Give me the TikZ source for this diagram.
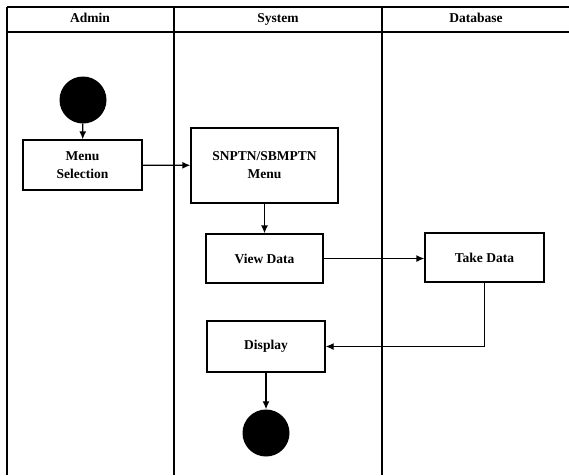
\documentclass[tikz,border=0pt]{standalone}
\usepackage{fontspec}
\setmainfont{Liberation Serif}
\usetikzlibrary{arrows.meta}
\begin{document}
\begin{tikzpicture}[x=1pt, y=-1pt,
    lane/.style={line width=2.8pt},
    act/.style={rectangle, draw, line width=1.3pt, align=center,
      font=\fontsize{13.5}{18}\selectfont\bfseries, inner sep=0pt},
    dot/.style={circle, fill=black, inner sep=0pt, minimum size=47pt},
    head/.style={font=\fontsize{13.5}{15}\selectfont\bfseries,
      text height=9pt, text depth=3pt}]
    \useasboundingbox (0,0) rectangle (569,475);

    % swimlanes
    \begin{scope}[lane]
      \draw (7,7) -- (569,7); \draw (7,32) -- (569,32);
      \draw (7,7) -- (7,475); \draw (174,7) -- (174,475);
      \draw (382,7) -- (382,475);
    \end{scope}
    \begin{scope}[every node/.style={head}]
      \node (admin) at (90,19.5) {Admin}; \node (system) at (278,19.5)
      {System}; \node (database) at (476,19.5) {Database};
    \end{scope}

    % activities
    \node[dot] (start) at (83,100) {};
    \node[dot] (stop) at (266,433) {};
    \begin{scope}[every node/.style={act}]
      \node[minimum width=119pt, minimum height=50pt] (menu) at
      (82.5,165) {Menu\\Selection}; \node[minimum width=147pt,
      minimum height=75pt] (snptn) at (264.5,165.5)
      {SNPTN/SBMPTN\\Menu};
      \node[minimum width=117pt, minimum height=49pt] (view) at
      (264.5,258.5) {View Data}; \node[minimum width=119pt, minimum
      height=49pt] (take) at (484.5,257.5) {Take Data};
      \node[minimum width=118pt, minimum height=51pt] (disp) at
      (266,346.5) {Display};
    \end{scope}

    \begin{scope}[-{Latex[length=8pt,width=7pt]}, line width=1.3pt]
      \draw (start) to (menu); \draw (menu) to (snptn);
      \draw (snptn) to (view); \draw (view.east) to (view.east -|
      take.west); \draw (take.south) |- (disp.east);
      \draw (disp) to (stop);
    \end{scope}
  \end{tikzpicture}
\end{document}
